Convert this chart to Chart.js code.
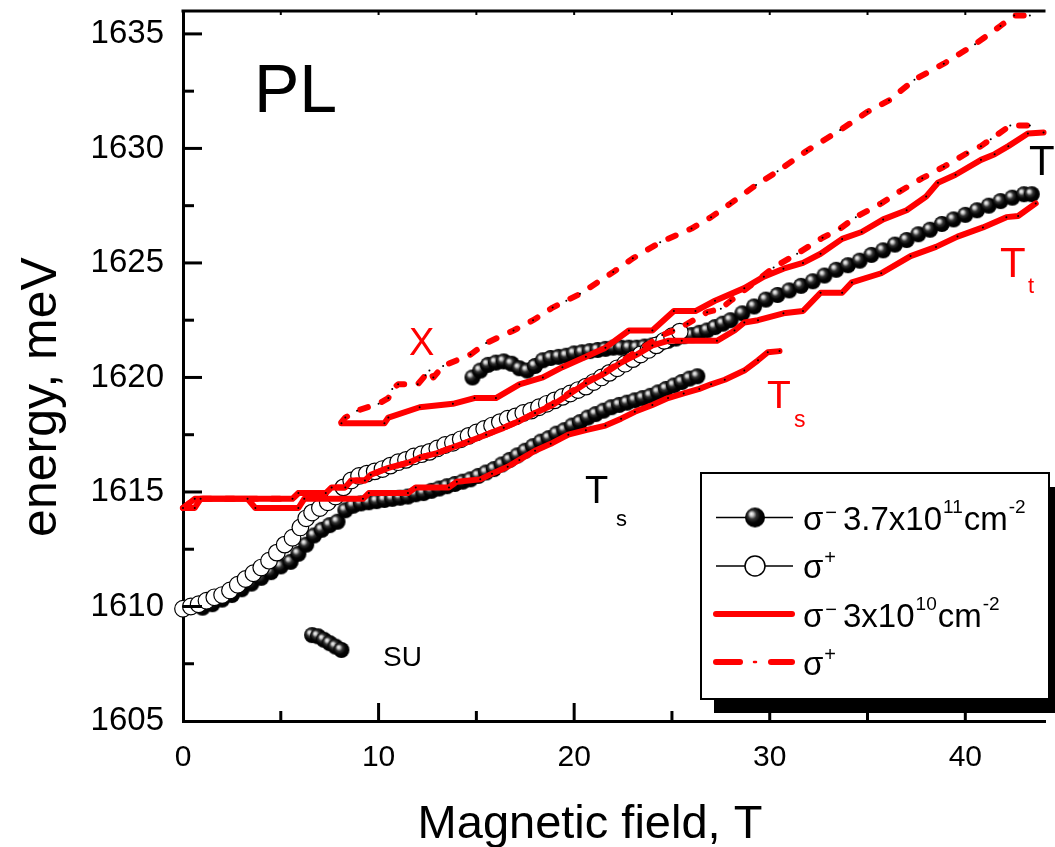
<!DOCTYPE html>
<html>
<head>
<meta charset="utf-8">
<script src="https://cdn.jsdelivr.net/npm/chart.js@4.4.0/dist/chart.umd.min.js"></script>
<style>
html,body{margin:0;padding:0;background:#fff;}
#wrap{width:1055px;height:847px;position:relative;}
</style>
</head>
<body>
<div id="wrap"><canvas id="c" width="1055" height="847"></canvas></div>
<script>
const FONT = "'Liberation Sans', Arial, Helvetica, sans-serif";

// ---------- DATA ----------
const xTicks = [0, 10, 20, 30, 40];
const yTicks = [1605, 1610, 1615, 1620, 1625, 1630, 1635];

// sigma- 3.7x10^11 cm^-2 (black spheres)
const blkLowX = [1.0,1.5,2.0,2.5,3.0,3.5,4.0,4.5,5.0,5.5,5.9,6.3,6.7,7.1,7.5,7.9,8.3,8.7,9.1,9.5,9.9,10.3,10.7,11.1,11.5,11.9,12.3,12.7,13.1,13.5,13.9,14.3,14.7,15.1,15.5,15.9,16.3,16.7,17.1,17.5,17.9,18.3,18.7,19.1,19.5,19.9,20.3,20.7,21.1,21.5,21.9,22.3,22.7,23.1,23.5,23.9,24.3,24.7,25.1,25.5,25.9,26.3];
const blkLowY = [1609.95,1610.1,1610.3,1610.5,1610.75,1611.0,1611.25,1611.5,1611.75,1611.95,1612.3,1612.7,1613.1,1613.35,1613.55,1613.7,1614.2,1614.4,1614.5,1614.55,1614.6,1614.65,1614.7,1614.75,1614.8,1614.9,1614.95,1615.05,1615.15,1615.25,1615.35,1615.45,1615.55,1615.7,1615.85,1616.0,1616.2,1616.4,1616.6,1616.8,1617.0,1617.2,1617.35,1617.55,1617.7,1617.9,1618.05,1618.25,1618.4,1618.55,1618.7,1618.8,1618.9,1619.0,1619.1,1619.2,1619.35,1619.5,1619.65,1619.8,1619.95,1620.05];
const blkUpX = [14.8,15.2,15.6,16.0,16.4,16.8,17.2,17.6,18.0,18.4,18.8,19.2,19.6,20.0,20.4,20.8,21.2,21.6,22.0,22.4,22.8,23.2,23.6,24.0,24.4,24.8,25.2,25.6,26.0,26.4,26.8,27.2,27.6,28.0,28.6,29.2,29.8,30.4,31.0,31.6,32.2,32.8,33.4,34.0,34.6,35.2,35.8,36.4,37.0,37.6,38.2,38.8,39.4,40.0,40.6,41.2,41.8,42.4,43.0,43.4];
const blkUpY = [1620.0,1620.3,1620.55,1620.65,1620.7,1620.6,1620.4,1620.3,1620.5,1620.75,1620.85,1620.9,1620.95,1621.05,1621.1,1621.15,1621.2,1621.25,1621.3,1621.3,1621.3,1621.3,1621.35,1621.4,1621.5,1621.6,1621.7,1621.8,1621.85,1621.95,1622.05,1622.2,1622.35,1622.5,1622.8,1623.1,1623.4,1623.6,1623.8,1624.0,1624.2,1624.45,1624.7,1624.9,1625.1,1625.35,1625.55,1625.8,1626.0,1626.25,1626.45,1626.7,1626.9,1627.1,1627.3,1627.5,1627.7,1627.85,1628.0,1628.0];
const suX = [6.6,6.9,7.2,7.5,7.8,8.1];
const suY = [1608.75,1608.7,1608.55,1608.4,1608.25,1608.1];

// sigma+ 3.7x10^11 cm^-2 (open circles)
const whtX = [0,0.4,0.8,1.2,1.6,2.0,2.4,2.8,3.2,3.6,4.0,4.4,4.8,5.2,5.6,6.0,6.3,6.6,7.0,7.4,7.8,8.2,8.6,9.0,9.4,9.8,10.2,10.6,11.0,11.4,11.8,12.2,12.6,13.0,13.4,13.8,14.2,14.6,15.0,15.4,15.8,16.2,16.6,17.0,17.4,17.8,18.2,18.6,19.0,19.4,19.8,20.2,20.6,21.0,21.4,21.8,22.2,22.6,23.0,23.4,23.8,24.2,24.6,25.0,25.4];
const whtY = [1609.9,1610.0,1610.1,1610.25,1610.4,1610.5,1610.7,1610.95,1611.2,1611.45,1611.7,1612.0,1612.35,1612.7,1613.0,1613.45,1613.85,1614.1,1614.3,1614.55,1614.8,1615.2,1615.5,1615.7,1615.8,1615.9,1616.0,1616.15,1616.3,1616.4,1616.55,1616.65,1616.75,1616.9,1617.05,1617.15,1617.3,1617.45,1617.6,1617.75,1617.9,1618.05,1618.2,1618.3,1618.45,1618.55,1618.7,1618.85,1619.0,1619.15,1619.3,1619.45,1619.6,1619.8,1620.0,1620.2,1620.4,1620.6,1620.8,1621.0,1621.2,1621.4,1621.6,1621.8,1622.0];

// sigma- 3x10^10 cm^-2 (red solid)
const tsRedX = [0,0.6,0.9,3.3,3.7,5.9,6.2,9.2,9.5,11.5,11.9,13.6,14.0,15.2,15.8,16.6,17.2,18.0,18.8,19.7,20.6,21.6,22.4,23.1,24.0,24.8,25.6,26.4,27.0,27.7,28.7,29.4,29.9,30.5];
const tsRedY = [1614.3,1614.3,1614.7,1614.7,1614.3,1614.3,1614.7,1614.7,1614.95,1614.95,1615.2,1615.2,1615.45,1615.55,1615.8,1616.1,1616.4,1616.8,1617.1,1617.5,1617.7,1617.9,1618.2,1618.5,1618.8,1619.1,1619.3,1619.5,1619.7,1619.9,1620.3,1620.75,1621.1,1621.15];
const xRedX = [8.1,10.3,10.5,12.1,13.8,14.9,16.0,17.2,18.4,19.4,20.6,21.6,22.8,24.0,25.1,26.2,27.2,28.7,29.7,30.7,31.7,32.6,33.7,34.7,35.8,37.0,38.0,38.6,39.5,40.8,41.5,42.2,43.2,44.0];
const xRedY = [1618.0,1618.0,1618.25,1618.7,1618.85,1619.1,1619.1,1619.7,1620.0,1620.45,1620.9,1621.3,1622.05,1622.05,1622.9,1622.9,1623.35,1623.9,1624.4,1624.75,1625.0,1625.4,1626.05,1626.35,1626.9,1627.3,1627.9,1628.5,1628.85,1629.5,1629.75,1630.1,1630.65,1630.7];
const ttRedX = [0,0.6,5.6,5.9,7.3,7.6,8.3,8.6,9.3,9.6,10.5,11.6,12.1,13.0,13.8,14.6,15.5,16.4,17.2,18.0,18.9,19.8,20.6,21.6,22.3,23.2,24.0,24.8,25.5,27.3,28.2,28.7,29.4,30.7,31.7,32.6,33.7,34.2,35.7,37.2,38.5,39.6,40.9,42.1,42.7,43.6];
const ttRedY = [1614.3,1614.7,1614.7,1614.95,1614.95,1615.2,1615.2,1615.5,1615.5,1615.75,1616.05,1616.3,1616.5,1616.7,1616.95,1617.2,1617.5,1617.8,1618.1,1618.45,1618.8,1619.3,1619.75,1620.2,1620.6,1621.0,1621.4,1621.6,1621.6,1621.6,1622.05,1622.4,1622.5,1622.8,1622.9,1623.7,1623.7,1624.15,1624.55,1625.3,1625.7,1626.15,1626.55,1627.0,1627.05,1627.6];

// sigma+ 3x10^10 cm^-2 (red dashed)
const xDashX = [8.1,8.3,8.9,10.0,10.5,10.7,11.0,12.0,12.4,12.6,12.8,13.3,14.7,15.5,16.9,17.9,18.9,19.6,20.3,22.0,23.0,24.4,26.0,27.0,28.0,29.3,30.4,31.9,33.6,35.0,36.1,37.4,38.9,40.5,41.8,42.5,43.3];
const xDashY = [1618.05,1618.25,1618.55,1618.85,1619.1,1619.5,1619.7,1619.7,1620.1,1620.3,1620.0,1620.5,1621.0,1621.5,1622.05,1622.5,1623.05,1623.35,1623.65,1624.6,1625.2,1625.9,1626.5,1627.0,1627.6,1628.4,1629.0,1629.9,1630.8,1631.6,1632.1,1633.0,1633.7,1634.55,1635.35,1635.8,1635.8];
const tDashX = [0,0.6,5.6,5.9,7.3,7.6,8.3,8.6,9.3,9.6,10.5,11.6,12.1,13.0,13.8,14.6,15.5,16.4,17.2,18.0,18.9,19.8,20.6,21.6,22.5,23.5,24.5,25.1,25.8,26.8,27.5,28.0,29.0,30.2,31.4,32.7,33.6,34.4,35.7,36.7,37.8,38.9,40.1,40.8,41.3,42.3,43.3];
const tDashY = [1614.3,1614.7,1614.7,1614.95,1614.95,1615.2,1615.2,1615.5,1615.5,1615.75,1616.05,1616.3,1616.5,1616.7,1616.95,1617.2,1617.5,1617.8,1618.1,1618.45,1618.85,1619.35,1619.8,1620.25,1620.75,1621.3,1621.85,1622.05,1622.35,1622.85,1623.0,1623.35,1624.0,1624.8,1625.4,1626.1,1626.5,1627.0,1627.6,1628.15,1628.7,1629.2,1629.8,1630.1,1630.4,1631.0,1631.0];

// ---------- helpers ----------
function pts(xs, ys){ return xs.map((x,i)=>({x:x, y:ys[i]})); }

function makeSphere(r){
  const s = Math.ceil(2*r)+2;
  const c = document.createElement('canvas'); c.width = s; c.height = s;
  const g = c.getContext('2d');
  const cx = s/2, cy = s/2;
  const grad = g.createRadialGradient(cx-r*0.38, cy-r*0.38, 0, cx-r*0.15, cy-r*0.15, r*1.05);
  grad.addColorStop(0, '#ffffff');
  grad.addColorStop(0.18, '#c8c8c8');
  grad.addColorStop(0.42, '#333333');
  grad.addColorStop(0.7, '#050505');
  grad.addColorStop(1, '#000000');
  g.fillStyle = grad;
  g.beginPath(); g.arc(cx, cy, r, 0, Math.PI*2); g.fill();
  return c;
}
const sphere = makeSphere(8);
const sphereBig = makeSphere(10);

const RED = '#ff0000';
function redLine(xs, ys, dashed){
  return {
    type:'line', data: pts(xs, ys), showLine:true,
    borderColor: RED, borderWidth: 6, borderJoinStyle:'round',
    borderCapStyle: 'round', borderDash: dashed ? [8, 15] : [],
    pointRadius: 1, pointBackgroundColor:'#000', pointBorderWidth:0,
    pointHoverRadius:0, tension:0, order:1, clip:false
  };
}

function txt(ctx, s, x, y, size, color, align){
  ctx.font = size + 'px ' + FONT;
  ctx.fillStyle = color || '#000';
  ctx.textAlign = align || 'left';
  ctx.textBaseline = 'alphabetic';
  ctx.fillText(s, x, y);
  return ctx.measureText(s).width;
}
function seg(ctx, x1, y1, x2, y2){ ctx.beginPath(); ctx.moveTo(x1,y1); ctx.lineTo(x2,y2); ctx.stroke(); }

const deco = {
  id:'deco',
  afterDraw(chart){
    const ctx = chart.ctx;
    const {left, right, top, bottom} = chart.chartArea;
    const xs = chart.scales.x, ys = chart.scales.y;
    ctx.save();
    ctx.strokeStyle = '#000';
    ctx.lineCap = 'butt';
    // top frame line
    ctx.lineWidth = 3;
    seg(ctx, left-1.5, top, right, top);
    // inward ticks
    for (let v = 5; v <= 44; v += 5){
      const px = xs.getPixelForValue(v);
      const major = (v % 10 === 0);
      ctx.lineWidth = 3;
      seg(ctx, px, bottom, px, bottom - (major ? 18 : 10));
      ctx.lineWidth = 2;
      seg(ctx, px, top, px, top + 4);
    }
    for (let v = 1607.5; v <= 1636; v += 2.5){
      const py = ys.getPixelForValue(v);
      const major = (Math.abs(v % 5) < 1e-6);
      ctx.lineWidth = 3;
      seg(ctx, left, py, left + (major ? 19 : 11), py);
    }

    // annotations
    txt(ctx, 'PL', 254, 112, 68, '#000');
    txt(ctx, 'X', 409, 355, 38, RED);
    txt(ctx, 'T', 767, 408, 39, RED);
    txt(ctx, 's', 794, 427, 23, RED);
    txt(ctx, 'T', 1029, 175, 42, '#000');
    txt(ctx, 'T', 1000, 277, 42, RED);
    txt(ctx, 't', 1028, 293, 22, RED);
    txt(ctx, 'T', 585, 503, 38, '#000');
    txt(ctx, 's', 616, 526, 22, '#000');
    txt(ctx, 'SU', 383, 666, 28, '#000');

    // axis titles
    txt(ctx, 'Magnetic field, T', 590, 838, 47, '#000', 'center');
    ctx.save();
    ctx.translate(56, 397);
    ctx.rotate(-Math.PI/2);
    txt(ctx, 'energy, meV', 0, 0, 50, '#000', 'center');
    ctx.restore();

    // legend box with shadow
    const bx = 701, by = 473, bw = 348, bh = 226;
    ctx.fillStyle = '#000';
    ctx.fillRect(bx + 13, by + 14, bw, bh);
    ctx.fillStyle = '#fff';
    ctx.fillRect(bx, by, bw, bh);
    ctx.lineWidth = 2;
    ctx.strokeStyle = '#000';
    ctx.strokeRect(bx, by, bw, bh);

    // row 1: black spheres
    ctx.lineWidth = 1.3;
    seg(ctx, 716, 517.5, 793, 517.5);
    ctx.drawImage(sphereBig, 755 - sphereBig.width/2, 517.5 - sphereBig.height/2);
    // row 2: open circles
    seg(ctx, 716, 566, 793, 566);
    ctx.beginPath(); ctx.arc(755, 566, 10, 0, Math.PI*2);
    ctx.fillStyle = '#fff'; ctx.fill(); ctx.lineWidth = 1.5; ctx.stroke();
    // row 3: red solid
    ctx.strokeStyle = RED; ctx.lineCap = 'round'; ctx.lineWidth = 6;
    seg(ctx, 716, 614, 792, 614);
    // row 4: red dash-dot
    seg(ctx, 716, 662, 740, 662);
    ctx.lineWidth = 2.5; seg(ctx, 754, 662, 756, 662);
    ctx.lineWidth = 6; seg(ctx, 771, 662, 792, 662);
    ctx.lineCap = 'butt';

    // legend texts
    let x;
    // row1
    x = 803 + txt(ctx, '\u03c3', 803, 530, 33);
    txt(ctx, '\u2212', x + 2, 519, 20);
    x = 843 + txt(ctx, '3.7x10', 843, 530, 33);
    x = x + 1 + txt(ctx, '11', x + 1, 513, 19);
    x = x + 1 + txt(ctx, 'cm', x + 1, 530, 33);
    txt(ctx, '-2', x + 1, 513, 19);
    // row2
    x = 803 + txt(ctx, '\u03c3', 803, 578, 33);
    txt(ctx, '+', x + 1, 564, 20);
    // row3
    x = 803 + txt(ctx, '\u03c3', 803, 627, 33);
    txt(ctx, '\u2212', x + 2, 616, 20);
    x = 843 + txt(ctx, '3x10', 843, 627, 33);
    x = x + 1 + txt(ctx, '10', x + 1, 610, 19);
    x = x + 1 + txt(ctx, 'cm', x + 1, 627, 33);
    txt(ctx, '-2', x + 1, 610, 19);
    // row4
    x = 803 + txt(ctx, '\u03c3', 803, 675, 33);
    txt(ctx, '+', x + 1, 661, 20);

    ctx.restore();
  }
};

const chart = new Chart(document.getElementById('c').getContext('2d'), {
  type: 'line',
  data: {
    datasets: [
      redLine(tsRedX, tsRedY, false),
      redLine(xRedX, xRedY, false),
      redLine(ttRedX, ttRedY, false),
      redLine(xDashX, xDashY, true),
      redLine(tDashX, tDashY, true),
      {
        label: 'sigma+ 3.7e11', data: pts(whtX, whtY), showLine:false,
        pointStyle:'circle', pointRadius:8.3, pointBackgroundColor:'#fff',
        pointBorderColor:'#000', pointBorderWidth:1.2, pointHoverRadius:8.3,
        order:2, clip:false
      },
      {
        label: 'sigma- 3.7e11', data: pts(blkLowX, blkLowY).concat(pts(blkUpX, blkUpY), pts(suX, suY)),
        showLine:false, pointStyle: sphere, pointRadius:8, order:3, clip:false
      }
    ]
  },
  options: {
    responsive:false, animation:false, devicePixelRatio:1,
    events: [],
    layout:{padding:{top:11, right:0, bottom:0, left:0}},
    plugins:{legend:{display:false}, tooltip:{enabled:false}, title:{display:false}},
    scales:{
      x:{
        type:'linear', min:0, max:44.1,
        afterFit(s){ s.height = 126; s.paddingLeft = 0; s.paddingRight = 0; },
        afterBuildTicks(s){ s.ticks = xTicks.map(v=>({value:v})); },
        ticks:{font:{family:FONT, size:30}, color:'#000', padding:19, maxRotation:0, autoSkip:false,
               callback:(v)=>String(v)},
        grid:{display:false, drawTicks:false},
        border:{display:true, color:'#000', width:3}
      },
      y:{
        type:'linear', min:1605, max:1636,
        afterFit(s){ s.width = 183; s.paddingTop = 0; s.paddingBottom = 0; },
        afterBuildTicks(s){ s.ticks = yTicks.map(v=>({value:v})); },
        ticks:{font:{family:FONT, size:33}, color:'#000', padding:19, autoSkip:false,
               callback:(v)=>String(v)},
        grid:{display:false, drawTicks:false},
        border:{display:true, color:'#000', width:3}
      }
    }
  },
  plugins:[deco]
});
</script>
</body>
</html>
